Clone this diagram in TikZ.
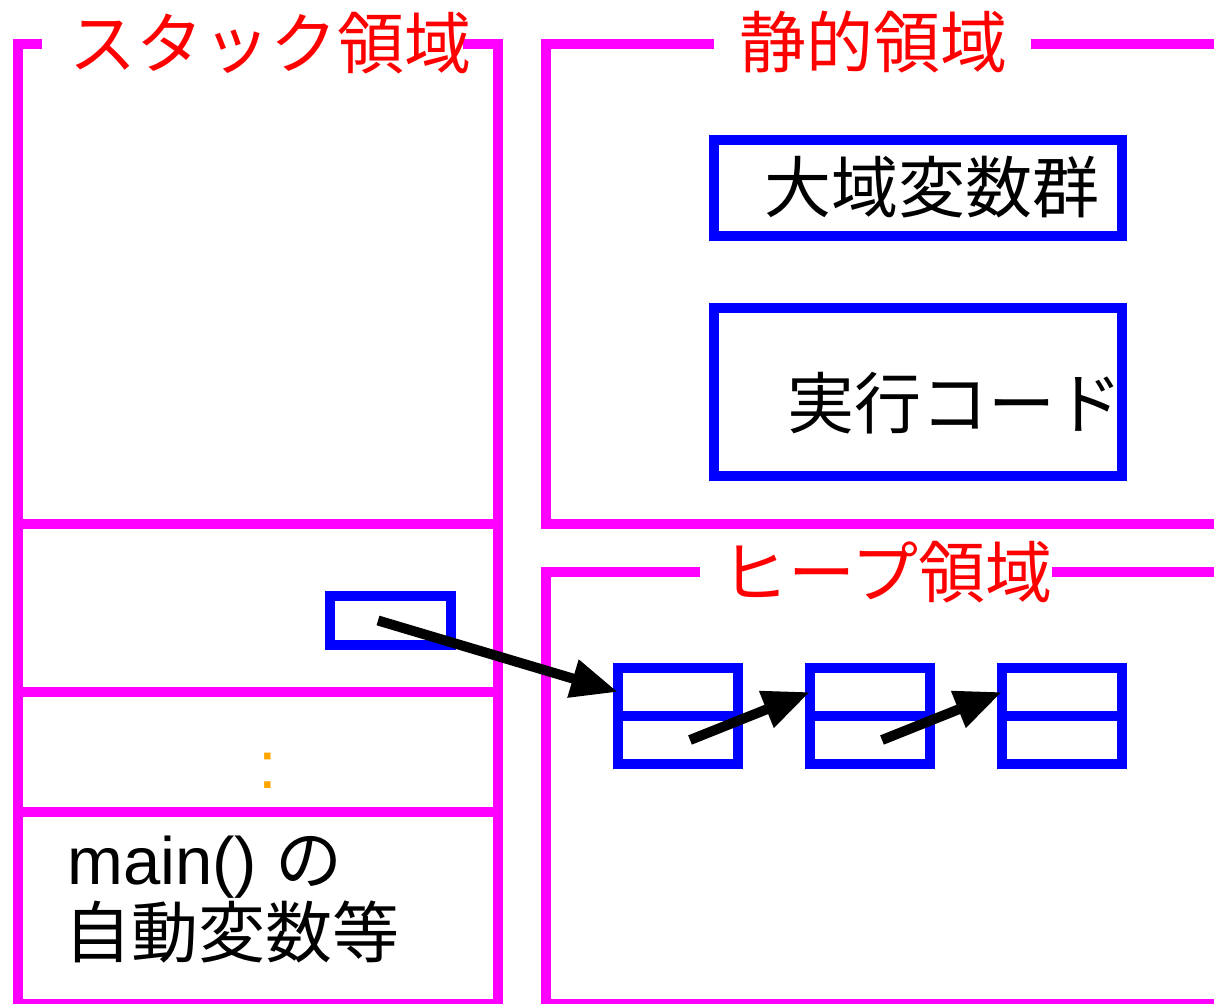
\documentclass[tikz,border=0pt]{standalone}
\usepackage{fontspec}
\setmainfont{Noto Sans CJK JP}
\newfontfamily\lat{Liberation Sans}
\usetikzlibrary{arrows.meta,calc}
\definecolor{pink}{HTML}{FF00FF}
\definecolor{bl}{HTML}{0000FF}
\definecolor{rd}{HTML}{FF0000}
\definecolor{org}{HTML}{FFA500}
\tikzset{
  frame/.style={draw=pink,line width=5pt,line join=miter},
  title/.style={text=rd,font=\fontsize{33.5pt}{40pt}\selectfont,anchor=base,inner sep=0pt},
  label/.style={text=black,font=\fontsize{33.5pt}{40pt}\selectfont,anchor=base west,inner sep=0pt},
  bbox/.style={draw=bl,line width=5pt,rectangle,inner sep=0pt,outer sep=0pt},
  ptr/.style={draw=black,line width=5pt,-{Triangle[length=23.5pt,width=18.5pt]}}
}
\begin{document}
\begin{tikzpicture}[x=0.5pt,y=-0.5pt]
\useasboundingbox[fill=white] (0,0) rectangle (1214,1004);
% stack area
\draw[frame] (42,44) -- (18,44) -- (18,1004) -- (498,1004) -- (498,44) -- (463,44);
\draw[frame] (18,524) -- (498,524);
\draw[frame] (18,692) -- (498,692);
\draw[frame] (18,812) -- (498,812);
\node[title] (tstack) at (270.5,69) {スタック領域};
% static area
\draw[frame] (714,44) -- (546,44) -- (546,524) -- (1219,524) -- (1219,44) -- (1031,44);
\node[title] (tstatic) at (873.5,68) {静的領域};
% heap area
\draw[frame] (700,572) -- (546,572) -- (546,1004) -- (1219,1004) -- (1219,572) -- (1052,572);
\node[title] (theap) at (886.5,597) {ヒープ領域};
% static contents
\node[bbox,minimum width=204pt,minimum height=48pt] (gvar) at (918,188) {};
\node[label] (tgvar) at (764,213) {大域変数群};
\node[bbox,minimum width=204pt,minimum height=84pt] (code) at (918,392) {};
\node[label] (tcode) at (787,429) {実行コード};
% stack contents
\node[bbox,minimum width=60.5pt,minimum height=24pt] (pbox) at (390,620.5) {};
\node[text=org,font=\lat\fontsize{33.5pt}{40pt}\selectfont,anchor=base,inner sep=0pt] (dots) at (267.5,788) {:};
\node[label] (tmain) at (67,884) {{\lat main() }の};
\node[label] (tauto) at (64,957) {自動変数等};
% heap nodes
\foreach \n/\x in {h1/678,h2/870,h3/1062}{
  \node[bbox,minimum width=60pt,minimum height=48pt] (\n) at (\x,716) {};
  \draw[draw=bl,line width=5pt] (\n.west) -- (\n.east);
}
% pointers
\coordinate (s1) at ($(pbox.center)+(-12,0)$);
\coordinate (s2) at ($(h1.center)+(12,24)$);
\coordinate (s3) at ($(h2.center)+(12,24)$);
\draw[ptr] (s1) -- ($(h1.north west)!0.5!(h1.west)$);
\draw[ptr] (s2) -- ($(h2.north west)!0.5!(h2.west)$);
\draw[ptr] (s3) -- ($(h3.north west)!0.5!(h3.west)$);
\end{tikzpicture}
\end{document}
